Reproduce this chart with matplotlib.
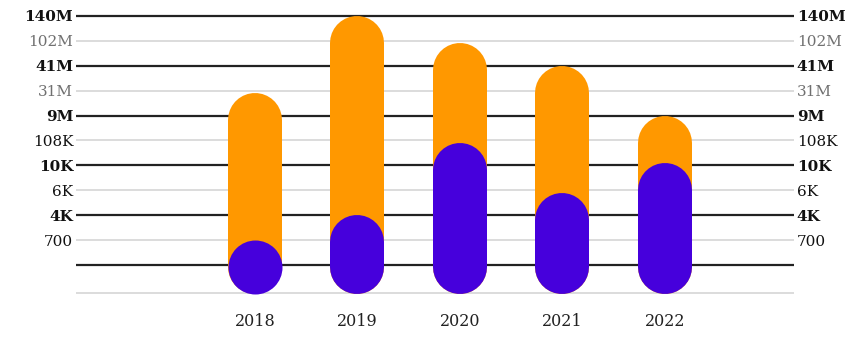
import matplotlib.pyplot as plt

years = ["2018", "2019", "2020", "2021", "2022"]
# bar tops, in grid-level units (level 0 = unlabeled dark line)
orange_top = [6.9, 10.0, 8.9, 8.0, 6.0]
purple_top = [0.85, 2.0, 4.9, 2.9, 4.1]
base = -1.16

tick_levels = [1, 2, 3, 4, 5, 6, 7, 8, 9, 10]
tick_labels = ["700", "4K", "6K", "10K", "108K", "9M", "31M", "41M", "102M", "140M"]
bold_labels = ["4K", "10K", "9M", "41M", "140M"]
grey_labels = ["31M", "102M"]

dark_lines = [0, 2, 4, 6, 8, 10]
light_lines = [-1.12, 1, 3, 5, 7, 9]

fig = plt.figure(figsize=(8.64, 3.44), dpi=100)
ax = fig.add_axes([76 / 864, 44 / 344, 718 / 864, 290 / 344])
ax.set_xlim(-1.746, 5.26)
ax.set_ylim(-1.406, 10.24)

for y in light_lines:
    ax.axhline(y, color="#d9d9d9", lw=1.3, zorder=1)
for y in dark_lines:
    ax.axhline(y, color="#222222", lw=1.6, zorder=1)

# pill shaped bars: thick round-capped lines (a plain dot if too short)
bar_px = 54
lw = bar_px * 72 / fig.dpi
px_per_level = 290 / (10.24 + 1.406)
r = (bar_px / 2) / px_per_level


def pill(x, top, color, z):
    y0 = base + r
    y1 = top - r
    if y1 - y0 > 0.05:
        ax.plot([x, x], [y0, y1], color=color, lw=lw,
                solid_capstyle="round", zorder=z)
    else:
        ax.plot([x], [y0], color=color, marker="o", markersize=lw,
                markeredgewidth=0, zorder=z)


for i in range(len(years)):
    pill(i, orange_top[i], "#ff9800", 2)
    pill(i, purple_top[i], "#4600dc", 3)

ax.set_xticks(range(len(years)))
ax.set_xticklabels(years, family="DejaVu Serif", fontsize=11.5, color="#222222")
ax.tick_params(axis="x", length=0, pad=9)

ax.set_yticks(tick_levels)
ax.set_yticklabels(tick_labels)
ax.tick_params(axis="y", length=0, pad=2, labelright=True)
for tk, lab in zip(ax.yaxis.get_major_ticks(), tick_labels):
    for t in (tk.label1, tk.label2):
        t.set_text(lab)
        t.set_family("DejaVu Serif")
        t.set_fontsize(11)
        if lab in bold_labels:
            t.set_fontweight("bold")
            t.set_color("#111111")
        elif lab in grey_labels:
            t.set_color("#707070")
        else:
            t.set_color("#111111")

for s in ax.spines.values():
    s.set_visible(False)

fig.savefig("out.png", dpi=100)
